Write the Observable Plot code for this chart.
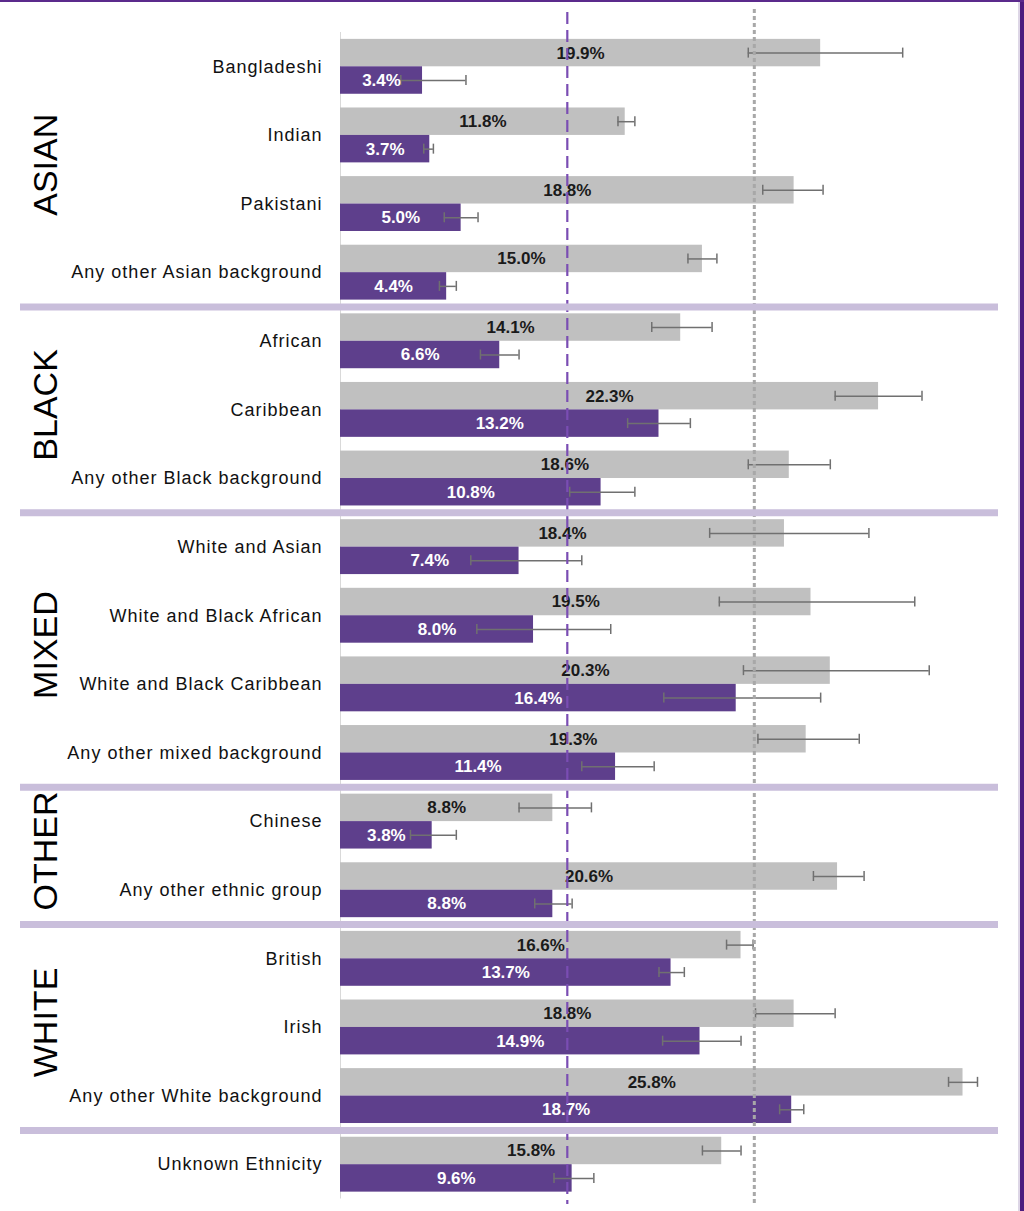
<!DOCTYPE html>
<html>
<head>
<meta charset="utf-8">
<script src="https://cdn.jsdelivr.net/npm/d3@7"></script>
<script src="https://cdn.jsdelivr.net/npm/@observablehq/plot@0.6"></script>
<style>
html, body { margin: 0; padding: 0; background: #fff; }
#wrap { position: relative; width: 1024px; height: 1211px; overflow: hidden; background: #fff; }
#wrap svg { position: absolute; left: 0; top: 0; }
.topbar { position: absolute; left: 0; top: 0; width: 1024px; height: 2px; background: #5b2a8c; }
.rightbar { position: absolute; right: 0; top: 0; width: 4px; height: 1211px; background: #4c1c7e; }
.rightshade { position: absolute; right: 4px; top: 0; width: 2px; height: 1211px; background: #ddd6e6; }
g[aria-label="y-axis tick label"] text,
g[aria-label="value labels"] text { letter-spacing: 1px; }
</style>
</head>
<body>
<div id="wrap"></div>
<script>
// ---- data ----
const categories = [
  "Bangladeshi", "Indian", "Pakistani", "Any other Asian background",
  "African", "Caribbean", "Any other Black background",
  "White and Asian", "White and Black African", "White and Black Caribbean", "Any other mixed background",
  "Chinese", "Any other ethnic group",
  "British", "Irish", "Any other White background",
  "Unknown Ethnicity"
];
const groups = [
  "ASIAN", "ASIAN", "ASIAN", "ASIAN",
  "BLACK", "BLACK", "BLACK",
  "MIXED", "MIXED", "MIXED", "MIXED",
  "OTHER", "OTHER",
  "WHITE", "WHITE", "WHITE",
  ""
];
const greyValues = [19.9, 11.8, 18.8, 15.0, 14.1, 22.3, 18.6, 18.4, 19.5, 20.3, 19.3, 8.8, 20.6, 16.6, 18.8, 25.8, 15.8];
const greyLow    = [16.9, 11.5, 17.5, 14.4, 12.9, 20.5, 16.9, 15.3, 15.7, 16.7, 17.3, 7.4, 19.6, 16.0, 17.2, 25.2, 15.0];
const greyHigh   = [23.3, 12.2, 20.0, 15.6, 15.4, 24.1, 20.3, 21.9, 23.8, 24.4, 21.5, 10.4, 21.7, 17.1, 20.5, 26.4, 16.6];
const purpleValues = [3.4, 3.7, 5.0, 4.4, 6.6, 13.2, 10.8, 7.4, 8.0, 16.4, 11.4, 3.8, 8.8, 13.7, 14.9, 18.7, 9.6];
const purpleLow    = [2.5, 3.45, 4.3, 4.1, 5.8, 11.9, 9.5, 5.4, 5.65, 13.4, 10.0, 2.9, 8.05, 13.2, 13.35, 18.2, 8.85];
const purpleHigh   = [5.2, 3.85, 5.7, 4.8, 7.4, 14.5, 12.2, 10.0, 11.2, 19.9, 13.0, 4.8, 9.6, 14.25, 16.6, 19.2, 10.5];
const dashedRef = 9.4;
const dottedRef = 17.15;

// ---- build table ----
const rows = categories.map((c, i) => ({
  category: c, group: groups[i],
  grey: greyValues[i], greyLo: greyLow[i], greyHi: greyHigh[i],
  purple: purpleValues[i], purpleLo: purpleLow[i], purpleHi: purpleHigh[i]
}));

// ---- layout ----
const W = 1024, H = 1211;
const mL = 340, mR = 8.4, mT = 9, mB = 7, inT = 23, inB = 5.5;
const n = categories.length;
const step = (H - mT - mB - inT - inB) / n;
const bw = step * 0.8;
const capH = 10;

const GREY = "#c0c0c0", PURPLE = "#5e3f8c", ERR = "#707070";

// separators at first row of each new group
const sepRows = rows.filter((d, i) => i > 0 && groups[i] !== groups[i - 1]);

// group labels
const groupNames = [...new Set(groups)].filter(g => g !== "");
const oddLabels = [], evenLabels = [];
for (const g of groupNames) {
  const members = rows.filter(d => d.group === g);
  const k = members.length;
  if (k % 2 === 1) oddLabels.push({group: g, category: members[(k - 1) / 2].category});
  else evenLabels.push({group: g, category: members[k / 2].category});
}
const groupTextOpts = {
  y: "category", text: "group", frameAnchor: "left", dx: -294,
  rotate: -90, fontSize: 34, fill: "#000", textAnchor: "middle"
};

const plot = Plot.plot({
  width: W, height: H,
  marginLeft: mL, marginRight: mR, marginTop: mT, marginBottom: mB,
  style: {fontFamily: "'Liberation Sans', Arial, sans-serif", fontSize: "18px", background: "transparent"},
  x: {domain: [0, 28], axis: null},
  y: {domain: categories, paddingInner: 0.2, paddingOuter: 0.1, round: false, insetTop: inT, insetBottom: inB, axis: null, label: null},
  marks: [
    // axis line
    Plot.ruleX([0], {stroke: "#d9d9d9", strokeWidth: 1, insetTop: inT, insetBottom: inB}),
    // bars
    Plot.barX(rows, {y: "category", x: "grey", fill: GREY, insetBottom: bw / 2}),
    Plot.barX(rows, {y: "category", x: "purple", fill: PURPLE, insetTop: bw / 2}),
    // error bars grey
    Plot.ruleY(rows, {y: "category", x1: "greyLo", x2: "greyHi", dy: -bw / 4, stroke: ERR, strokeWidth: 1.5}),
    Plot.tickX(rows, {y: "category", x: "greyLo", stroke: ERR, strokeWidth: 1.5, insetTop: bw / 4 - capH / 2, insetBottom: bw * 3 / 4 - capH / 2}),
    Plot.tickX(rows, {y: "category", x: "greyHi", stroke: ERR, strokeWidth: 1.5, insetTop: bw / 4 - capH / 2, insetBottom: bw * 3 / 4 - capH / 2}),
    // error bars purple
    Plot.ruleY(rows, {y: "category", x1: "purpleLo", x2: "purpleHi", dy: bw / 4, stroke: ERR, strokeWidth: 1.5}),
    Plot.tickX(rows, {y: "category", x: "purpleLo", stroke: ERR, strokeWidth: 1.5, insetTop: bw * 3 / 4 - capH / 2, insetBottom: bw / 4 - capH / 2}),
    Plot.tickX(rows, {y: "category", x: "purpleHi", stroke: ERR, strokeWidth: 1.5, insetTop: bw * 3 / 4 - capH / 2, insetBottom: bw / 4 - capH / 2}),
    // value labels
    Plot.text(rows, {y: "category", x: d => d.grey / 2, text: d => d.grey.toFixed(1) + "%", dy: -bw / 4, fill: "#1a1a1a", fontWeight: "bold", fontSize: 17, ariaLabel: "value labels"}),
    Plot.text(rows, {y: "category", x: d => d.purple / 2, text: d => d.purple.toFixed(1) + "%", dy: bw / 4, fill: "#ffffff", fontWeight: "bold", fontSize: 17, ariaLabel: "value labels"}),
    // reference lines
    Plot.ruleX([dashedRef], {x: d => d, stroke: "#7a4db3", strokeWidth: 2.2, strokeDasharray: "12,6", insetTop: 3}),
    Plot.ruleX([dottedRef], {x: d => d, stroke: "#a8a8a8", strokeWidth: 3, strokeDasharray: "4,3"}),
    // group separators
    Plot.ruleY(sepRows, {y: "category", dy: -step / 2, stroke: "#c9bedb", strokeWidth: 7, insetLeft: -320, insetRight: 17.6}),
    // category axis
    Plot.axisY({tickSize: 0, tickPadding: 18, fontSize: 18, fill: "#111", label: null}),
    // group labels
    Plot.text(oddLabels, {...groupTextOpts, dy: -5}),
    Plot.text(evenLabels, {...groupTextOpts, dy: -step / 2 - 5})
  ]
});

const wrap = document.getElementById("wrap");
wrap.appendChild(plot);
for (const cls of ["rightshade", "rightbar", "topbar"]) {
  const d = document.createElement("div");
  d.className = cls;
  wrap.appendChild(d);
}
</script>
</body>
</html>
